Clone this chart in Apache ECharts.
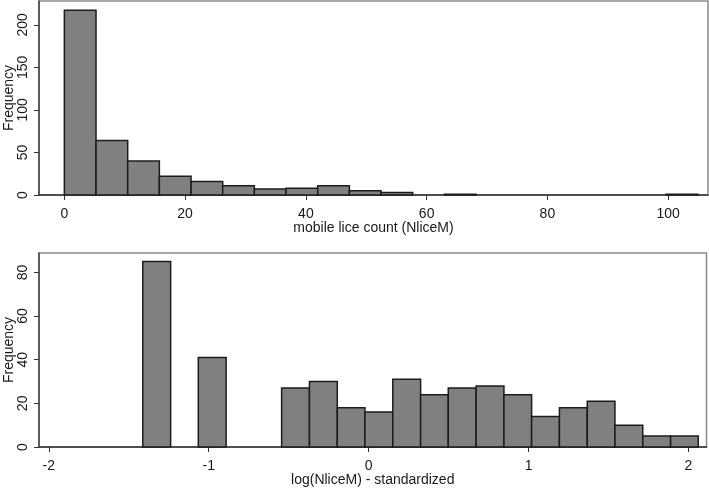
<!DOCTYPE html>
<html>
<head>
<meta charset="utf-8">
<script src="https://cdn.jsdelivr.net/npm/echarts@6/dist/echarts.min.js"></script>
<style>
html,body{margin:0;padding:0;background:#fff;}
#chart{width:709px;height:488px;}
</style>
</head>
<body>
<div id="chart"></div>
<script>
// ---- Top histogram: mobile lice count (NliceM) ----
var topBinEdges = [0, 5.245, 10.49, 15.735, 20.98, 26.225, 31.47, 36.715, 41.96, 47.205, 52.45, 57.695, 62.94, 68.185, 73.43, 78.675, 83.92, 89.165, 94.41, 99.655, 104.9];
var topCounts   = [217, 64, 40, 22, 16, 11, 7, 8, 11, 5, 3, 0, 1, 0, 0, 0, 0, 0, 0, 1];
var topXTicks   = [0, 20, 40, 60, 80, 100];
var topYTicks   = [0, 50, 100, 150, 200];
var topXName    = 'mobile lice count (NliceM)';

// ---- Bottom histogram: log(NliceM) - standardized ----
var botBinEdges = [-1.412, -1.238, -1.065, -0.891, -0.717, -0.544, -0.370, -0.196, -0.023, 0.151, 0.325, 0.498, 0.672, 0.846, 1.019, 1.193, 1.367, 1.540, 1.714, 1.888, 2.061];
var botCounts   = [85, 0, 41, 0, 0, 27, 30, 18, 16, 31, 24, 27, 28, 24, 14, 18, 21, 10, 5, 5];
var botXTicks   = [-2, -1, 0, 1, 2];
var botYTicks   = [0, 20, 40, 60, 80];
var botXName    = 'log(NliceM) - standardized';

var yName = 'Frequency';

function binData(edges, counts) {
  var out = [];
  for (var i = 0; i < counts.length; i++) {
    if (counts[i] > 0) out.push([edges[i], edges[i + 1], counts[i]]);
  }
  return out;
}

function renderBar(params, api) {
  var p0 = api.coord([api.value(0), api.value(2)]);
  var p1 = api.coord([api.value(1), 0]);
  return {
    type: 'rect',
    shape: { x: p0[0], y: p0[1], width: p1[0] - p0[0], height: p1[1] - p0[1] },
    style: { fill: '#808080', stroke: '#1c1c1c', lineWidth: 1.5 }
  };
}

var font = 'Liberation Sans, Arial, Helvetica, sans-serif';
var txt = '#1a1a1a';

function xAxisCfg(gi, min, max, ticks, name) {
  return {
    type: 'value', gridIndex: gi, min: min, max: max,
    name: name, nameLocation: 'middle', nameGap: 26, nameMoveOverlap: false,
    nameTextStyle: { fontFamily: font, fontSize: 14, color: txt },
    axisLine: { show: true, onZero: false, lineStyle: { color: '#333', width: 1.5 } },
    axisTick: { show: true, length: 5, customValues: ticks, lineStyle: { color: '#333', width: 1 } },
    axisLabel: { customValues: ticks, fontFamily: font, fontSize: 14, color: txt, margin: 12 },
    splitLine: { show: false }
  };
}

function yAxisCfg(gi, min, max, ticks) {
  return {
    type: 'value', gridIndex: gi, min: min, max: max,
    name: yName, nameLocation: 'middle', nameGap: 23, nameRotate: 90, nameMoveOverlap: false,
    nameTextStyle: { fontFamily: font, fontSize: 14, color: txt },
    axisLine: { show: true, onZero: false, lineStyle: { color: '#444', width: 1.5 } },
    axisTick: { show: true, length: 5, customValues: ticks, lineStyle: { color: '#333', width: 1 } },
    axisLabel: { customValues: ticks, rotate: 90, fontFamily: font, fontSize: 14, color: txt, margin: 9 },
    splitLine: { show: false }
  };
}

var chart = echarts.init(document.getElementById('chart'), null, { renderer: 'canvas' });
chart.setOption({
  animation: false,
  backgroundColor: '#fff',
  grid: [
    { left: 39, right: 1, top: 1, height: 194, show: true, borderColor: '#8a8a8a', borderWidth: 1.5, backgroundColor: '#fff', containLabel: false, outerBoundsMode: 'none' },
    { left: 39, right: 2.5, top: 253, height: 194, show: true, borderColor: '#8a8a8a', borderWidth: 1.5, backgroundColor: '#fff', containLabel: false, outerBoundsMode: 'none' }
  ],
  xAxis: [
    xAxisCfg(0, -4.2, 106.6, topXTicks, topXName),
    xAxisCfg(1, -2.061, 2.1125, botXTicks, botXName)
  ],
  yAxis: [
    yAxisCfg(0, 0, 228, topYTicks),
    yAxisCfg(1, 0, 88.9, botYTicks)
  ],
  series: [
    { type: 'custom', xAxisIndex: 0, yAxisIndex: 0, renderItem: renderBar,
      encode: { x: [0, 1], y: 2 }, data: binData(topBinEdges, topCounts) },
    { type: 'custom', xAxisIndex: 1, yAxisIndex: 1, renderItem: renderBar,
      encode: { x: [0, 1], y: 2 }, data: binData(botBinEdges, botCounts) }
  ]
});
</script>
</body>
</html>
